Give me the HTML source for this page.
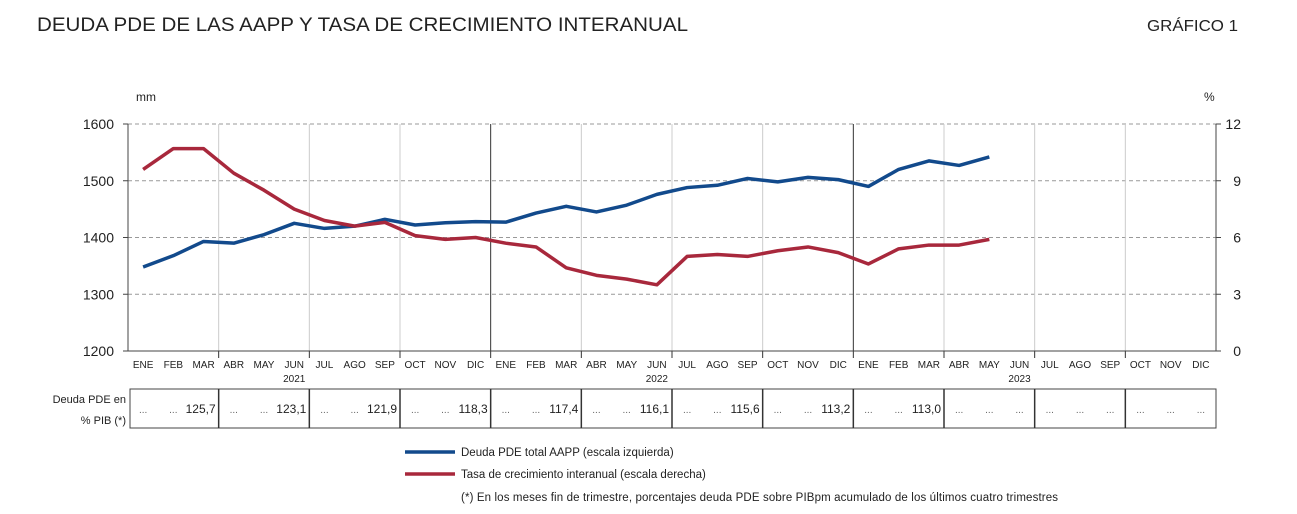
<!DOCTYPE html>
<html><head><meta charset="utf-8"><style>
body{margin:0;background:#fff;width:1297px;height:514px;overflow:hidden;font-family:"Liberation Sans",Arial,sans-serif}
svg{position:absolute;left:0;top:0}
</style></head><body>
<svg id="c" width="1297" height="514" xmlns="http://www.w3.org/2000/svg" font-family="Liberation Sans, Arial, sans-serif">
<text x="37" y="31" font-size="19" fill="#222" textLength="651" lengthAdjust="spacingAndGlyphs">DEUDA PDE DE LAS AAPP Y TASA DE CRECIMIENTO INTERANUAL</text>
<text x="1147" y="31" font-size="16" fill="#222" textLength="91" lengthAdjust="spacingAndGlyphs">GRÁFICO 1</text>
<text x="136" y="101" font-size="12" fill="#222">mm</text>
<text x="1204" y="101" font-size="12" fill="#222">%</text>
<g id="grid"></g><g id="axes"></g><g id="series"></g><g id="table"></g>
<g>
<line x1="405" y1="452" x2="455" y2="452" stroke="#124a8c" stroke-width="3.5"/>
<text x="461" y="456" font-size="11.5" fill="#222">Deuda PDE total AAPP (escala izquierda)</text>
<line x1="405" y1="474" x2="455" y2="474" stroke="#a8283c" stroke-width="3.5"/>
<text x="461" y="478" font-size="11.5" fill="#222">Tasa de crecimiento interanual (escala derecha)</text>
<text x="461" y="501" font-size="11.5" fill="#222" textLength="597" lengthAdjust="spacing">(*) En los meses fin de trimestre, porcentajes deuda PDE sobre PIBpm acumulado de los últimos cuatro trimestres</text>
</g>
</svg>
<script>
const months=["ENE","FEB","MAR","ABR","MAY","JUN","JUL","AGO","SEP","OCT","NOV","DIC"];
const years=["2021","2022","2023"];
const leftTicks=[1200,1300,1400,1500,1600];
const rightTicks=[0,3,6,9,12];
const debt=[1348,1368,1393,1390,1405,1425,1416,1420,1432,1422,1426,1428,1427,1443,1455,1445,1457,1476,1488,1492,1504,1498,1506,1502,1490,1520,1535,1527,1542];
const growth=[9.6,10.7,10.7,9.4,8.5,7.5,6.9,6.6,6.8,6.1,5.9,6.0,5.7,5.5,4.4,4.0,3.8,3.5,5.0,5.1,5.0,5.3,5.5,5.2,4.6,5.4,5.6,5.6,5.9];
const pibValues=["125,7","123,1","121,9","118,3","117,4","116,1","115,6","113,2","113,0",null,null,null];

const L=128,R=1216,T=124,B=351,N=36,mw=(R-L)/N;
const xs=i=>L+mw*(i+0.5);
const yl=v=>B-(v-1200)/400*(B-T);
const yr=v=>B-v/12*(B-T);
const NS="http://www.w3.org/2000/svg";
function mk(tag,attrs,parent,txt){const e=document.createElementNS(NS,tag);for(const k in attrs)e.setAttribute(k,attrs[k]);if(txt!=null)e.textContent=txt;parent.appendChild(e);return e;}
const grid=document.getElementById('grid'),axes=document.getElementById('axes'),ser=document.getElementById('series'),tab=document.getElementById('table');
leftTicks.forEach((v,i)=>{
  if(i>0){const g=mk('line',{x1:L,x2:R,y1:yl(v),y2:yl(v),stroke:'#999','stroke-dasharray':'4,3','stroke-width':1},grid);
  
  }
  const t=mk('text',{x:L-14,y:yl(v)+5,'font-size':14,'text-anchor':'end',fill:'#222'},axes,v);
  
  
});
rightTicks.forEach(v=>{
  const t=mk('text',{x:R+25,y:yr(v)+5,'font-size':14,'text-anchor':'end',fill:'#222'},axes,v);
  
  
});
for(let q=1;q<12;q++){
  const x=L+q*3*mw, yr_=q%4===0;
  const g=mk('line',{x1:x,x2:x,y1:T,y2:B,stroke:yr_?'#333':'#ccc','stroke-width':1},grid);
  
  
  mk('line',{x1:x,x2:x,y1:B,y2:B+7,stroke:'#333'},axes);
}
mk('line',{x1:L,x2:L,y1:T,y2:B,stroke:'#444'},axes);
mk('line',{x1:R,x2:R,y1:T,y2:B,stroke:'#444'},axes);
mk('line',{x1:L-5,x2:R+5,y1:B,y2:B,stroke:'#444'},axes);
[L,R].forEach(x=>{leftTicks.forEach(v=>mk('line',{x1:x-(x===L?5:0),x2:x+(x===R?5:0),y1:yl(v),y2:yl(v),stroke:'#444'},axes));});
for(let i=0;i<N;i++){
  const t=mk('text',{x:xs(i),y:368,'font-size':10,'text-anchor':'middle',fill:'#222'},axes,months[i%12]);
  
  
}
years.forEach((y,k)=>{
  const t=mk('text',{x:xs(k*12+5),y:382,'font-size':10,'text-anchor':'middle',fill:'#222'},axes,y);
  
  
});
function line(data,yf,color,name){
  const p=mk('polyline',{points:data.map((v,i)=>xs(i)+','+yf(v)).join(' '),fill:'none',stroke:color,'stroke-width':3.5,'stroke-linejoin':'round'},ser);
  
  
}
line(debt,yl,'#124a8c','debt-line');
line(growth,yr,'#a8283c','growth-line');
const tT=389,tB=428;
const lab1=mk('text',{x:126,y:403,'font-size':11,'text-anchor':'end',fill:'#222'},tab,'Deuda PDE en');


mk('text',{x:126,y:424,'font-size':11,'text-anchor':'end',fill:'#222'},tab,'% PIB (*)');
mk('rect',{x:L+2,y:tT,width:R-L-2,height:tB-tT,fill:'none',stroke:'#444'},tab);
pibValues.forEach((v,q)=>{
  const x0=L+q*3*mw;
  if(q>0)mk('line',{x1:x0,x2:x0,y1:tT,y2:tB,stroke:'#333','stroke-width':1.5},tab);
  for(let j=0;j<3;j++){
    const isVal=(j===2&&v!=null);
    const t=mk('text',{x:isVal?x0+3*mw-3:xs(q*3+j),y:413,'font-size':isVal?12:10,'text-anchor':isVal?'end':'middle',fill:isVal?'#222':'#666'},tab,isVal?v:'...');
    
    
  }
});
</script>
</body></html>
